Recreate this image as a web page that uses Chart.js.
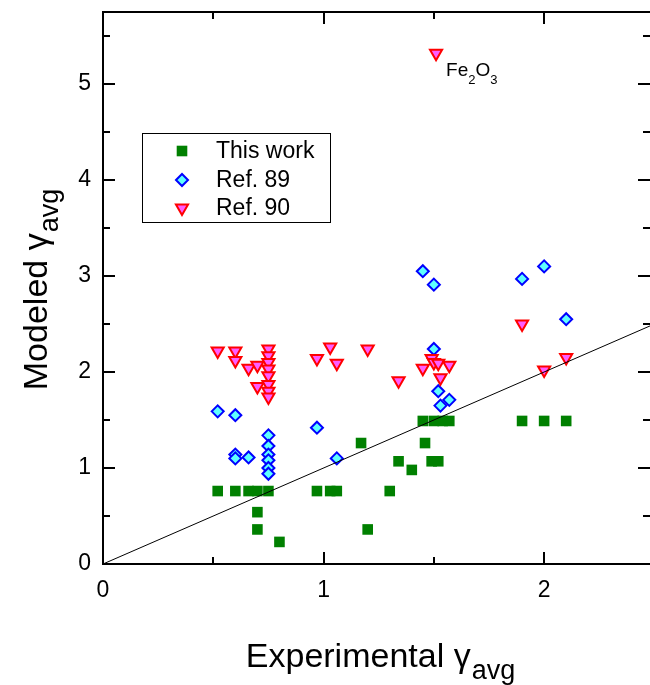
<!DOCTYPE html>
<html>
<head>
<meta charset="utf-8">
<script src="https://cdn.jsdelivr.net/npm/chart.js@4.4.1/dist/chart.umd.min.js"></script>
<style>
  html, body { margin: 0; padding: 0; background: #fff; }
  #wrap { width: 650px; height: 685px; }
</style>
</head>
<body>
<div id="wrap"><canvas id="chart" width="650" height="685"></canvas></div>
<script>
// series
const thisWorkX = [0.52, 0.60, 0.66, 0.70, 0.75, 0.70, 0.70, 0.80, 0.97, 1.03, 1.06, 1.30, 1.17, 1.34, 1.40, 1.46, 1.49, 1.52, 1.45, 1.50, 1.54, 1.57, 1.20, 1.90, 2.00, 2.10];
const thisWorkY = [0.76, 0.76, 0.76, 0.76, 0.76, 0.54, 0.36, 0.23, 0.76, 0.76, 0.76, 0.76, 1.26, 1.07, 0.98, 1.26, 1.07, 1.07, 1.49, 1.49, 1.49, 1.49, 0.36, 1.49, 1.49, 1.49];

const ref89X = [0.52, 0.60, 0.60, 0.60, 0.66, 0.75, 0.75, 0.75, 0.75, 0.75, 0.75, 0.97, 1.06, 1.45, 1.50, 1.50, 1.52, 1.57, 1.53, 1.90, 2.00, 2.10];
const ref89Y = [1.59, 1.55, 1.14, 1.10, 1.11, 1.34, 1.23, 1.14, 1.08, 1.00, 0.94, 1.42, 1.10, 3.05, 2.91, 2.24, 1.80, 1.71, 1.65, 2.97, 3.10, 2.55];

const ref90X = [0.52, 0.60, 0.60, 0.66, 0.70, 0.70, 0.75, 0.75, 0.75, 0.75, 0.75, 0.75, 0.75, 0.75, 0.97, 1.03, 1.06, 1.20, 1.34, 1.45, 1.49, 1.50, 1.52, 1.57, 1.53, 1.90, 2.00, 2.10, 1.51];
const ref90Y = [2.22, 2.22, 2.12, 2.04, 2.07, 1.85, 2.24, 2.17, 2.10, 2.03, 1.96, 1.87, 1.80, 1.74, 2.14, 2.26, 2.09, 2.24, 1.91, 2.04, 2.14, 2.10, 2.09, 2.07, 1.94, 2.50, 2.02, 2.15, 5.32];

const parityX = [0, 2.5];
const parityY = [0, 2.5];

const seriesNames = ['This work', 'Ref. 89', 'Ref. 90'];
const xTickValues = [0, 1, 2];
const yTickValues = [0, 1, 2, 3, 4, 5];
const xRange = [0, 2.48];
const yRange = [0, 5.75];

const FONT = '"Liberation Sans", Arial, sans-serif';

function toPoints(xs, ys) {
  return xs.map((x, i) => ({ x: x, y: ys[i] }));
}

// scales must not reserve room for overflowing labels
function noPad(scale) {
  scale.paddingTop = 0;
  scale.paddingBottom = 0;
  scale.paddingLeft = 0;
  scale.paddingRight = 0;
}

// inward ticks + frame on all four sides
const framePlugin = {
  id: 'frame',
  afterDatasetsDraw(chart) {
    const { ctx, chartArea: a, scales } = chart;
    const xs = scales.x, ys = scales.y;
    ctx.save();
    ctx.strokeStyle = '#000';
    ctx.lineWidth = 2;
    ctx.beginPath();
    ctx.moveTo(a.left, a.top);
    ctx.lineTo(a.right + 1, a.top);
    ctx.moveTo(a.left, a.bottom);
    ctx.lineTo(a.right + 1, a.bottom);
    ctx.moveTo(a.left, a.top - 1);
    ctx.lineTo(a.left, a.bottom + 1);
    ctx.moveTo(a.right + 1, a.top);
    ctx.lineTo(a.right + 1, a.bottom);
    ctx.stroke();

    ctx.beginPath();
    for (let v = 0; v <= xRange[1] + 1e-9; v += 0.5) {
      const px = Math.round(xs.getPixelForValue(v));
      const len = Number.isInteger(v) ? 12 : 7;
      ctx.moveTo(px, a.bottom);
      ctx.lineTo(px, a.bottom - len);
      ctx.moveTo(px, a.top);
      ctx.lineTo(px, a.top + len);
    }
    for (let v = 0; v <= yRange[1] + 1e-9; v += 0.5) {
      const py = Math.round(ys.getPixelForValue(v));
      const len = Number.isInteger(v) ? 12 : 7;
      ctx.moveTo(a.left, py);
      ctx.lineTo(a.left + len, py);
      ctx.moveTo(a.right, py);
      ctx.lineTo(a.right - len, py);
    }
    ctx.stroke();
    ctx.restore();
  },
  afterDraw(chart) {
    const { ctx, scales } = chart;
    ctx.save();
    ctx.fillStyle = '#000';
    ctx.textBaseline = 'alphabetic';

    // x title with subscript
    ctx.font = '34px ' + FONT;
    const xMain = 'Experimental \u03b3';
    const w1 = ctx.measureText(xMain).width;
    ctx.font = '27px ' + FONT;
    const w2 = ctx.measureText('avg').width;
    const sx = 380 - (w1 + w2) / 2;
    ctx.font = '34px ' + FONT;
    ctx.fillText(xMain, sx, 667);
    ctx.font = '27px ' + FONT;
    ctx.fillText('avg', sx + w1 + 1, 679);

    // y title, rotated
    ctx.save();
    ctx.translate(47, 0);
    ctx.rotate(-Math.PI / 2);
    ctx.font = '34px ' + FONT;
    const yMain = 'Modeled \u03b3';
    const v1 = ctx.measureText(yMain).width;
    ctx.font = '27px ' + FONT;
    const v2 = ctx.measureText('avg').width;
    const sy = -(290 + (v1 + v2) / 2);
    ctx.font = '34px ' + FONT;
    ctx.fillText(yMain, sy, 0);
    ctx.font = '27px ' + FONT;
    ctx.fillText('avg', sy + v1 + 1, 11);
    ctx.restore();

    // Fe2O3 annotation next to the outlier
    const last = ref90X.length - 1;
    const fx = scales.x.getPixelForValue(ref90X[last]) + 10;
    const fy = scales.y.getPixelForValue(ref90Y[last]) + 23;
    const parts = [['Fe', 0, 19], ['2', 8, 13], ['O', 0, 19], ['3', 8, 13]];
    let cx = fx;
    parts.forEach(([t, dy, size]) => {
      ctx.font = size + 'px ' + FONT;
      ctx.fillText(t, cx, fy + dy);
      cx += ctx.measureText(t).width;
    });

    // legend box
    const bx = 142, by = 133, bw = 188, bh = 89;
    ctx.lineWidth = 1;
    ctx.strokeStyle = '#000';
    ctx.strokeRect(bx + 0.5, by + 0.5, bw, bh);
    const rowsY = [151, 180, 208];
    chart.data.datasets.slice(0, 3).forEach((ds, i) => {
      const y = rowsY[i];
      ctx.fillStyle = ds.backgroundColor;
      ctx.strokeStyle = ds.borderColor;
      ctx.lineWidth = ds.borderWidth;
      Chart.helpers.drawPoint(ctx, {
        pointStyle: ds.pointStyle,
        radius: ds.pointRadius,
        rotation: ds.pointRotation || 0,
        borderWidth: ds.borderWidth
      }, 182, y);
      ctx.fillStyle = '#000';
      ctx.font = '23px ' + FONT;
      ctx.textBaseline = 'middle';
      ctx.fillText(seriesNames[i], 216, y + 1);
    });
    ctx.restore();
  }
};

const chart = new Chart(document.getElementById('chart'), {
  type: 'scatter',
  data: {
    datasets: [
      {
        label: seriesNames[0],
        data: toPoints(thisWorkX, thisWorkY),
        pointStyle: 'rect',
        pointRadius: 7.5,
        backgroundColor: '#008000',
        borderColor: '#008000',
        borderWidth: 0,
        order: 3
      },
      {
        label: seriesNames[1],
        data: toPoints(ref89X, ref89Y),
        pointStyle: 'rectRot',
        pointRadius: 6,
        backgroundColor: '#5fffff',
        borderColor: '#0000ff',
        borderWidth: 2,
        order: 2
      },
      {
        label: seriesNames[2],
        data: toPoints(ref90X, ref90Y),
        pointStyle: 'triangle',
        pointRadius: 7,
        pointRotation: 180,
        rotation: 180,
        backgroundColor: '#ff5cff',
        borderColor: '#ff0000',
        borderWidth: 2,
        order: 1
      },
      {
        type: 'line',
        label: 'y = x',
        data: toPoints(parityX, parityY),
        borderColor: '#000',
        borderWidth: 1,
        pointRadius: 0,
        fill: false,
        order: 0
      }
    ]
  },
  options: {
    responsive: false,
    animation: false,
    layout: { autoPadding: false, padding: { top: 12, right: 0, left: 0, bottom: 0 } },
    plugins: {
      legend: { display: false },
      tooltip: { enabled: false }
    },
    scales: {
      x: {
        type: 'linear',
        min: xRange[0],
        max: xRange[1],
        grid: { display: false, drawTicks: false },
        border: { display: false },
        afterFit: (scale) => { scale.height = 121; noPad(scale); },
        afterBuildTicks: (scale) => { scale.ticks = xTickValues.map(v => ({ value: v })); },
        ticks: {
          padding: 13,
          color: '#000',
          font: { family: FONT, size: 23 },
          callback: (v) => String(v)
        }
      },
      y: {
        type: 'linear',
        min: yRange[0],
        max: yRange[1],
        grid: { display: false, drawTicks: false },
        border: { display: false },
        afterFit: (scale) => { scale.width = 103; noPad(scale); },
        afterBuildTicks: (scale) => { scale.ticks = yTickValues.map(v => ({ value: v })); },
        ticks: {
          padding: 12,
          color: '#000',
          font: { family: FONT, size: 23 },
          callback: (v) => String(v)
        }
      }
    }
  },
  plugins: [framePlugin]
});
</script>
</body>
</html>
